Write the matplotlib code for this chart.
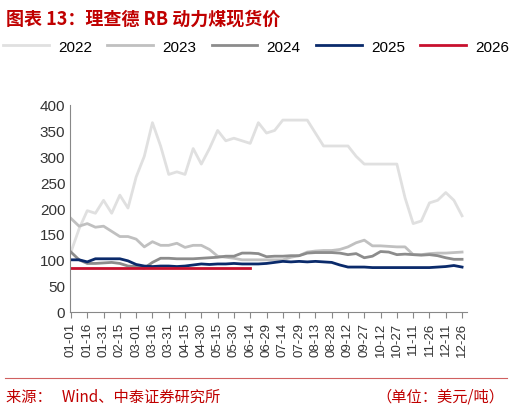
import matplotlib
matplotlib.use("Agg")
import matplotlib.pyplot as plt
import numpy as np

plt.rcParams['font.family'] = ['Liberation Sans', 'Noto Sans CJK SC', 'DejaVu Sans']

ticklabels = ["01-01","01-16","01-31","02-15","03-01","03-16","03-31","04-15","04-30","05-15","05-30","06-14","06-29","07-14","07-29","08-13","08-28","09-12","09-27","10-12","10-27","11-11","11-26","12-11","12-26"]
s2022 = [115,160,195,190,215,190,225,200,260,300,365,320,265,270,265,315,285,315,350,330,335,330,325,365,345,350,370,370,370,370,345,320,320,320,320,300,285,285,285,285,285,220,170,175,210,215,230,215,185]
s2023 = [180,165,170,163,165,155,145,145,140,125,135,128,128,132,124,128,128,120,107,105,103,100,100,100,100,100,100,105,108,115,117,118,118,120,125,133,138,127,127,126,125,125,110,110,112,113,113,114,115]
s2024 = [115,100,93,93,94,95,93,88,87,84,95,103,103,102,102,102,103,104,105,107,107,113,113,112,106,107,107,108,108,113,114,114,114,113,110,112,104,107,116,115,110,111,110,109,110,108,104,101,101]
s2025 = [100,100,96,102,102,102,102,98,91,88,87,88,88,87,88,90,92,91,92,92,93,92,92,92,93,95,97,96,97,96,97,96,95,90,86,86,86,85,85,85,85,85,85,85,85,86,87,89,86]
s2026 = [85]*23

fig = plt.figure(figsize=(5.12, 4.14), dpi=100)
ax = fig.add_axes([0.137, 0.245, 0.775, 0.5])
series = [("2022", s2022, "#e0e0e0"), ("2023", s2023, "#c0c0c0"), ("2024", s2024, "#8c8c8c"),
          ("2025", s2025, "#0a2a6b"), ("2026", s2026, "#c8102e")]
for name, vals, c in series:
    x = np.arange(len(vals)) * 0.5
    ax.plot(x, vals, color=c, lw=2, label=name)

ax.set_xlim(-0.05, 24.3)
ax.set_ylim(0, 400)
ax.set_yticks(range(0, 401, 50))
ax.set_xticks(range(25))
ax.set_xticklabels(ticklabels, rotation=90, fontsize=9.5, color="#333333")
ax.tick_params(axis='y', labelsize=11, length=0, colors="#333333")
ax.tick_params(axis='x', length=4, color="#888888")
for s in ["top", "right"]:
    ax.spines[s].set_visible(False)
for s in ["left", "bottom"]:
    ax.spines[s].set_color("#888888")

fig.legend(loc="upper center", bbox_to_anchor=(0.5, 0.935), ncol=5, frameon=False,
           fontsize=11, handlelength=3.0, columnspacing=1.0, handletextpad=0.6)

fig.text(0.012, 0.955, "图表 13：理查德 RB 动力煤现货价", color="#c00000", fontsize=13,
         fontweight="bold", style="italic", family=['Noto Sans CJK SC'], va="center")
fig.add_artist(plt.Line2D([0.01, 0.99], [0.085, 0.085], color="#d06060", lw=0.8))
fig.text(0.012, 0.04, "来源：   Wind、中泰证券研究所", color="#c00000", fontsize=11, va="center",
         family=['Noto Sans CJK SC'])
fig.text(0.985, 0.04, "（单位：美元/吨）", color="#c00000", fontsize=11, va="center", ha="right",
         family=['Noto Sans CJK SC'])
fig.savefig("out.png", dpi=100)
